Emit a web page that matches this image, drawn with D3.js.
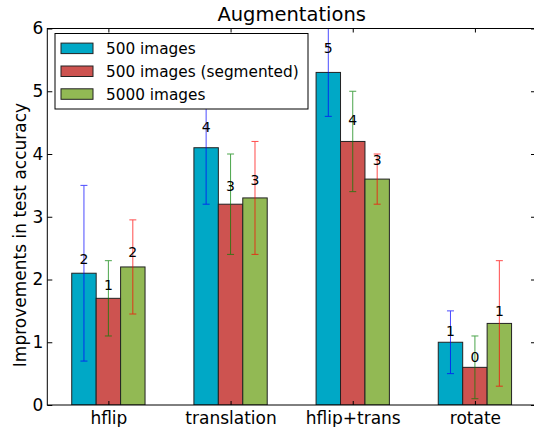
<!DOCTYPE html>
<html>
<head>
<meta charset="utf-8">
<script src="https://cdn.jsdelivr.net/npm/d3@7"></script>
<style>
  body { margin: 0; background: #fff; }
  svg { font-family: "DejaVu Sans", sans-serif; display: block; }
</style>
</head>
<body>
<div id="chart"></div>
<script>
// chart data
var categories = ["hflip", "translation", "hflip+trans", "rotate"];
var seriesNames = ["500 images", "500 images (segmented)", "5000 images"];
var values500 = [2.1, 4.1, 5.3, 1.0];
var err500 = [1.4, 0.9, 0.7, 0.5];
var valuesSeg = [1.7, 3.2, 4.2, 0.6];
var errSeg = [0.6, 0.8, 0.8, 0.5];
var values5000 = [2.2, 3.3, 3.6, 1.3];
var err5000 = [0.75, 0.9, 0.4, 1.0];
var yTicks = [0, 1, 2, 3, 4, 5, 6];

var barColors = ["#00a8c6", "#cd5350", "#92b954"];
var errColors = ["blue", "green", "red"];
var series = [
  {name: seriesNames[0], values: values500, errs: err500},
  {name: seriesNames[1], values: valuesSeg, errs: errSeg},
  {name: seriesNames[2], values: values5000, errs: err5000}
];

// plot box (window.top is reserved, so use a margin object)
var W = 534, H = 427;
var box = {left: 47.3, right: 536, top: 28.5, bottom: 405};
var barW = 0.2;

var svg = d3.select("#chart")
  .append("svg")
    .attr("width", W)
    .attr("height", H);

var x = d3.scaleLinear().domain([-0.2, 3.8]).range([box.left, box.right]);
var y = d3.scaleLinear().domain([0, 6]).range([box.bottom, box.top]);

svg.append("clipPath").attr("id", "plotclip")
  .append("rect")
    .attr("x", box.left).attr("y", box.top)
    .attr("width", box.right - box.left).attr("height", box.bottom - box.top);

var plot = svg.append("g").attr("clip-path", "url(#plotclip)");

// bars and error bars, series by series
series.forEach(function(s, k) {
  var g = plot.append("g");
  g.selectAll("rect")
    .data(s.values)
    .enter()
    .append("rect")
      .attr("x", function(d, i) { return x(i + k * barW); })
      .attr("y", function(d) { return y(d); })
      .attr("width", x(barW) - x(0))
      .attr("height", function(d) { return y(0) - y(d); })
      .attr("fill", barColors[k])
      .attr("stroke", "#222")
      .attr("stroke-width", 1);

  var eb = g.selectAll("g.err")
    .data(s.values)
    .enter()
    .append("g")
      .attr("class", "err")
      .attr("stroke", errColors[k])
      .attr("stroke-width", 1)
      .attr("opacity", 0.7);
  var cx = function(d, i) { return x(i + k * barW + barW / 2); };
  eb.append("line")
    .attr("x1", cx).attr("x2", cx)
    .attr("y1", function(d, i) { return y(d - s.errs[i]); })
    .attr("y2", function(d, i) { return y(d + s.errs[i]); });
  eb.append("line")
    .attr("x1", function(d, i) { return cx(d, i) - 3.5; })
    .attr("x2", function(d, i) { return cx(d, i) + 3.5; })
    .attr("y1", function(d, i) { return y(d - s.errs[i]); })
    .attr("y2", function(d, i) { return y(d - s.errs[i]); });
  eb.append("line")
    .attr("x1", function(d, i) { return cx(d, i) - 3.5; })
    .attr("x2", function(d, i) { return cx(d, i) + 3.5; })
    .attr("y1", function(d, i) { return y(d + s.errs[i]); })
    .attr("y2", function(d, i) { return y(d + s.errs[i]); });
});

// value labels
series.forEach(function(s, k) {
  svg.append("g").selectAll("text")
    .data(s.values)
    .enter()
    .append("text")
      .attr("x", function(d, i) { return x(i + k * barW + barW / 2); })
      .attr("y", function(d) { return y(1.05 * d) - 3; })
      .attr("text-anchor", "middle")
      .style("font-size", "14px")
      .text(function(d) { return Math.floor(d); });
});

// axes
var xTickVals = categories.map(function(c, i) { return i + 0.3; });

var yl = svg.append("g")
  .attr("transform", "translate(" + box.left + ",0)")
  .call(d3.axisLeft(y).tickValues(yTicks).tickFormat(d3.format("d"))
    .tickSizeInner(-5).tickSizeOuter(0).tickPadding(4));
var yr = svg.append("g")
  .attr("transform", "translate(" + box.right + ",0)")
  .call(d3.axisRight(y).tickValues(yTicks).tickSizeInner(-5).tickSizeOuter(0).tickFormat(""));
var xb = svg.append("g")
  .attr("transform", "translate(0," + box.bottom + ")")
  .call(d3.axisBottom(x).tickValues(xTickVals).tickSizeInner(-4).tickSizeOuter(0).tickPadding(7)
    .tickFormat(function(d, i) { return categories[i]; }));
var xt = svg.append("g")
  .attr("transform", "translate(0," + box.top + ")")
  .call(d3.axisTop(x).tickValues(xTickVals).tickSizeInner(-4).tickSizeOuter(0).tickFormat(""));

[yl, yr, xb, xt].forEach(function(a) {
  a.select(".domain").remove();
  a.selectAll("line").attr("stroke", "#000");
  a.selectAll("text")
    .attr("fill", "#000")
    .style("font-family", "DejaVu Sans")
    .style("font-size", "17px");
});

svg.append("rect")
  .attr("x", box.left).attr("y", box.top)
  .attr("width", box.right - box.left).attr("height", box.bottom - box.top)
  .attr("fill", "none")
  .attr("stroke", "#000")
  .attr("stroke-width", 1);

// title and axis label
svg.append("text")
  .attr("x", (box.left + box.right) / 2)
  .attr("y", 21)
  .attr("text-anchor", "middle")
  .style("font-size", "19.5px")
  .text("Augmentations");

svg.append("text")
  .attr("transform", "translate(26,235) rotate(-90)")
  .attr("text-anchor", "middle")
  .style("font-size", "17px")
  .text("Improvements in test accuracy");

// legend
var legend = svg.append("g");
legend.append("rect")
  .attr("x", 55).attr("y", 33.5)
  .attr("width", 253).attr("height", 75.5)
  .attr("fill", "#fff")
  .attr("stroke", "#000")
  .attr("stroke-width", 1);

var rowY = [48.3, 71.2, 94];
series.forEach(function(s, k) {
  legend.append("rect")
    .attr("x", 61).attr("y", rowY[k] - 5.2)
    .attr("width", 32).attr("height", 10.5)
    .attr("fill", barColors[k])
    .attr("stroke", "#222")
    .attr("stroke-width", 1);
  legend.append("text")
    .attr("x", 106)
    .attr("y", rowY[k] + 5.5)
    .style("font-size", "15.3px")
    .text(s.name);
});
</script>
</body>
</html>
